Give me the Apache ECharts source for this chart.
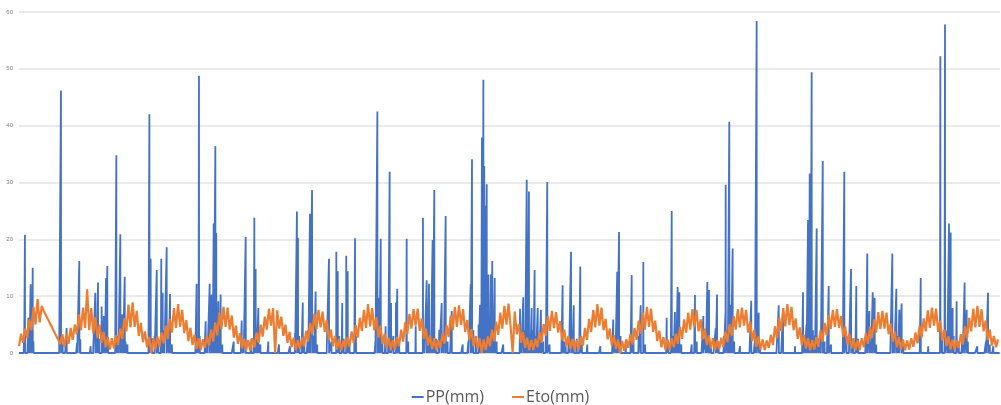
<!DOCTYPE html>
<html>
<head>
<meta charset="utf-8">
<script src="https://cdn.jsdelivr.net/npm/echarts@6/dist/echarts.min.js"></script>
<style>
  html, body { margin: 0; padding: 0; background: #fff; }
  #chart { width: 1001px; height: 405px; }
</style>
</head>
<body>
<div id="chart"></div>
<script>
// daily series, ~21 years; x axis = day index
const nDays = 7600
const yTicks = [0, 10, 20, 30, 40, 50, 60]
const seriesNames = ['PP(mm)', 'Eto(mm)']

// rain days: [day, mm] (all other days are 0)
const ppEvents = [
  [39, 2.5], [46, 20.8], [72, 6.2], [80, 2], [90, 12.1], [96, 3.5], [100, 1.8], [106, 15.0], [112, 2],
  [325, 46.2], [330, 2.5], [338, 1.5], [369, 4.4], [450, 1.8], [467, 16.2], [475, 2.4], [555, 1.2],
  [591, 10.6], [600, 3], [612, 12.4], [620, 2.5], [640, 8.2], [648, 4], [656, 6.5], [665, 2], [674, 13.2], [684, 15.3], [690, 1.5],
  [754, 34.8], [760, 3], [770, 2], [785, 20.9], [798, 6.8], [805, 3.5], [819, 13.4], [825, 2], [840, 1.5],
  [1010, 42.0], [1020, 16.6], [1030, 2.5], [1050, 3], [1067, 14.6], [1080, 2], [1102, 16.6], [1113, 10.6], [1125, 4], [1144, 18.6], [1160, 2.5], [1170, 10.4], [1185, 1.5],
  [1376, 12.2], [1390, 2], [1394, 48.8], [1400, 3], [1446, 5.6], [1460, 2.5], [1477, 12.2], [1492, 10.3], [1500, 4], [1508, 22.8], [1521, 36.4], [1528, 21.1], [1535, 3], [1544, 9.1], [1555, 2], [1562, 10.3], [1575, 1.5],
  [1663, 2], [1725, 5.7], [1740, 2], [1756, 20.4], [1800, 2.5], [1823, 23.8], [1833, 14.8], [1840, 3], [1854, 7.9], [1870, 1.5], [1931, 2], [2014, 1.5], [2099, 1.2],
  [2138, 3.5], [2153, 24.9], [2161, 20.3], [2170, 3], [2198, 8.9], [2210, 2], [2240, 4], [2254, 24.5], [2270, 28.7], [2285, 3], [2298, 10.8], [2310, 1.5],
  [2401, 16.6], [2420, 2], [2458, 17.8], [2469, 14.4], [2480, 3], [2504, 8.8], [2515, 2.5], [2535, 17.1], [2546, 14.4], [2560, 1.5],
  [2603, 20.2], [2610, 3], [2760, 2], [2776, 42.5], [2785, 3.5], [2791, 9.7], [2802, 20.1], [2815, 2.5], [2840, 4.7], [2860, 2], [2871, 31.9], [2882, 8.8], [2900, 3], [2920, 8.9], [2930, 11.3], [2945, 1.5], [3003, 20.1], [3015, 2], [3073, 4.7],
  [3129, 23.8], [3140, 3], [3158, 12.8], [3165, 4], [3176, 12.2], [3190, 3], [3204, 19.9], [3217, 28.7], [3230, 2.5], [3256, 4.1], [3274, 8.8], [3290, 3], [3305, 24.1], [3320, 2], [3352, 7.4], [3437, 1.5],
  [3480, 2], [3499, 12.1], [3509, 34.1], [3520, 4], [3540, 3], [3560, 5], [3571, 8.5], [3580, 6], [3586, 37.9], [3592, 10], [3597, 48.1], [3604, 32.9], [3610, 9], [3615, 25.9], [3623, 29.7], [3630, 7], [3635, 13.8], [3645, 5], [3654, 13.8], [3660, 6], [3666, 16.2], [3675, 4], [3685, 13.2], [3700, 2], [3751, 1.5],
  [3881, 7.8], [3890, 3], [3906, 9.8], [3920, 4], [3933, 30.5], [3940, 5], [3950, 28.4], [3960, 3], [3971, 7.9], [3985, 4], [3994, 14.6], [4005, 3], [4018, 7.9], [4030, 2.5], [4043, 7.6], [4060, 2], [4080, 3], [4092, 30.1], [4110, 1.5],
  [4211, 11.9], [4225, 2], [4235, 1.2], [4260, 3], [4276, 17.8], [4285, 2], [4297, 8.4], [4320, 2.5], [4348, 15.2], [4360, 1.5], [4402, 1.5], [4503, 1.2],
  [4603, 5.9], [4620, 2], [4634, 14.3], [4648, 21.3], [4660, 3], [4700, 2], [4746, 13.7], [4760, 2.5], [4800, 3], [4816, 8.4], [4836, 16.0], [4850, 1.5],
  [5017, 6.2], [5030, 2], [5056, 25.0], [5070, 3], [5081, 7.2], [5090, 2.5], [5102, 11.6], [5115, 10.7], [5130, 1.5], [5211, 1.5], [5236, 10.2], [5250, 2],
  [5301, 6.5], [5320, 3], [5332, 12.5], [5345, 11.1], [5360, 2], [5397, 4.4], [5407, 10.3], [5420, 2], [5460, 3], [5472, 7], [5474, 29.6], [5490, 4], [5502, 40.7], [5510, 3], [5515, 8.5], [5528, 18.4], [5540, 2], [5585, 1.2],
  [5672, 9.2], [5700, 2], [5714, 58.4], [5730, 7.1], [5740, 1.5], [5885, 8.4], [5918, 7.5], [6011, 1.2],
  [6073, 10.7], [6085, 3], [6100, 5], [6112, 23.4], [6118, 6], [6125, 31.6], [6132, 8], [6140, 49.4], [6150, 4], [6165, 3], [6179, 21.9], [6195, 2.5], [6210, 3], [6226, 33.8], [6240, 2], [6260, 3], [6272, 11.8], [6290, 1.5],
  [6393, 31.9], [6410, 3], [6445, 14.8], [6460, 2], [6486, 11.8], [6500, 2.5], [6560, 3], [6571, 17.5], [6587, 7.4], [6600, 2], [6613, 10.7], [6628, 9.7], [6640, 1.5],
  [6765, 17.5], [6780, 2], [6796, 11.3], [6810, 3], [6819, 7.6], [6837, 8.7], [6850, 1.5], [6985, 13.2], [7043, 1.2],
  [7137, 52.2], [7150, 3], [7173, 57.8], [7190, 4], [7204, 22.8], [7217, 21.2], [7232, 7.9], [7240, 3], [7263, 9.1], [7280, 2], [7310, 3], [7325, 12.4], [7341, 7.6], [7350, 2], [7423, 1.2], [7490, 2], [7506, 10.6], [7520, 1.5], [7547, 1.2]
]

// Eto read every 16 days (null = missing stretch, drawn as a straight join)
const etoStep = 16
const etoValues = [
  1.2, 3.4, 1.8, 4.3, 2.6, 5.9, 4.0, 8.1, 5.0, 9.5, 5.4, 8.3, 7.4,
  null, null, null, null, null, null, null,
  1.6, 3.3, 1.0, 3.5, 1.6, 4.4, 2.3, 5.0, 3.3, 6.8, 4.0, 8.0, 4.4, 11.2, 4.0, 7.9,
  3.4, 6.3, 2.6, 5.0, 1.8, 3.7, 1.0, 2.8, 0.6, 2.6, 0.8,
  3.1, 1.4, 4.3, 2.5, 6.1, 3.8, 8.5, 4.5, 8.9, 4.6,
  7.4, 3.0, 5.3, 1.9, 3.8, 1.0, 2.8, 0.0, 2.6, 0.6,
  2.9, 1.1, 3.6, 1.7, 4.8, 2.5, 6.0, 3.6, 7.9, 4.4, 8.6, 4.6,
  7.6, 3.5, 5.8, 2.1, 4.4, 1.4, 3.2, 0.7, 2.6, 0.5, 2.4,
  0.9, 3.0, 1.3, 4.1, 2.0, 5.4, 3.1, 7.1, 4.2, 8.1, 4.6, 8.0,
  4.1, 6.6, 2.7, 4.8, 1.6, 3.5, 0.8, 2.5, 0.5, 2.3, 0.4,
  2.6, 1.0, 3.6, 1.8, 5.0, 2.9, 6.4, 4.1, 7.8, 4.8, 7.9, 0.0, 7.5,
  4.3, 6.4, 3.0, 5.0, 1.8, 3.7, 1.0, 2.7, 0.5, 2.3, 0.7,
  2.7, 1.2, 3.9, 2.0, 5.3, 3.3, 6.9, 4.2, 7.6, 4.5, 7.3,
  3.7, 5.8, 2.3, 4.1, 1.2, 3.0, 0.6, 2.5, 0.5, 2.2, 0.7,
  2.8, 1.1, 3.8, 1.8, 4.9, 2.7, 6.2, 3.9, 7.6, 4.4, 8.6, 4.7, 7.9,
  4.0, 6.3, 2.7, 4.8, 1.6, 3.4, 0.9, 2.7, 0.5, 2.3, 0.6,
  2.8, 1.2, 4.1, 2.0, 5.4, 3.3, 6.9, 4.3, 7.7, 4.8, 7.8,
  3.9, 6.1, 2.5, 4.3, 1.3, 3.1, 0.7, 2.6, 0.5, 2.3,
  0.9, 3.4, 1.6, 4.9, 2.8, 6.6, 4.0, 8.1, 4.6, 8.4, 4.9,
  7.7, 3.7, 5.8, 2.3, 4.2, 1.2, 3.0, 0.7, 2.6, 0.0, 2.4, 0.5,
  2.9, 1.2, 4.1, 2.1, 5.5, 3.2, 7.1, 4.3, 8.3, 5.0, 8.7, 4.7, 0.0, 7.3,
  3.3, 5.1, 1.8, 3.7, 0.9, 2.7, 0.5, 2.3, 0.5,
  2.5, 1.0, 3.7, 1.8, 5.1, 3.0, 6.5, 3.9, 7.4, 4.4, 7.2,
  3.6, 5.6, 2.2, 4.1, 1.2, 3.0, 0.7, 2.5, 0.5, 2.2, 0.6,
  3.0, 1.3, 4.4, 2.3, 6.0, 3.7, 7.6, 4.5, 8.6, 4.8, 8.0,
  4.0, 6.0, 2.4, 4.3, 1.3, 3.1, 0.7, 2.4, 0.0, 2.1, 0.4,
  2.4, 0.9, 3.3, 1.5, 4.4, 2.3, 5.7, 3.4, 7.1, 4.1, 8.1, 4.6, 7.8,
  3.7, 5.7, 2.1, 3.9, 1.0, 2.8, 0.5, 2.4, 0.5,
  2.6, 1.0, 3.4, 1.6, 4.6, 2.5, 5.9, 3.6, 7.1, 4.1, 7.7, 4.5, 7.6,
  3.8, 5.9, 2.4, 4.3, 1.4, 3.1, 0.8, 2.6, 0.5, 2.3, 0.6,
  2.7, 1.1, 3.8, 1.9, 5.1, 3.0, 6.5, 4.1, 7.7, 4.5, 8.0, 4.8, 7.6,
  3.6, 5.5, 2.1, 4.0, 1.1, 2.9, 0.6, 2.4, 0.5, 2.2,
  0.9, 3.2, 1.4, 4.7, 2.6, 6.2, 3.9, 7.9, 4.7, 8.6, 4.9, 8.1,
  4.0, 6.1, 2.5, 4.5, 1.4, 3.2, 0.8, 2.6, 0.5, 2.3, 0.6,
  2.8, 1.1, 4.0, 2.0, 5.3, 3.1, 6.7, 4.2, 7.6, 4.6, 7.7, 4.4,
  6.5, 2.8, 4.7, 1.5, 3.4, 0.8, 2.6, 0.5, 2.3, 0.5,
  2.6, 1.0, 3.5, 1.6, 4.6, 2.6, 5.9, 3.6, 7.2, 4.2, 7.4, 4.3, 7.1,
  3.3, 5.2, 2.0, 3.8, 1.0, 2.8, 0.6, 2.4, 0.5, 2.2, 0.6,
  2.6, 1.1, 3.6, 1.7, 4.8, 2.7, 6.1, 3.8, 7.5, 4.4, 8.0, 4.8, 7.8,
  3.7, 5.7, 2.2, 4.1, 1.2, 2.9, 0.6, 2.4, 0.5, 2.3,
  0.9, 3.3, 1.5, 4.7, 2.6, 6.2, 3.8, 7.8, 4.5, 8.3, 4.6, 7.7,
  3.8, 5.7, 2.3, 4.1, 1.3, 3.0, 1.0, 2.4
]

const ppDaily = new Array(nDays).fill(0)
ppEvents.forEach(([d, mm]) => { ppDaily[d] = mm })
const ppData = ppDaily.map((v, i) => [i, v])
const etoData = etoValues.map((v, i) => [i * etoStep, v])

const chart = echarts.init(document.getElementById('chart'))

const option = {
  animation: false,
  color: ['#4472C4', '#ED7D31'],
  grid: {
    left: 19,
    right: 1,
    top: 12,
    bottom: 52,
  },
  legend: {
    data: seriesNames,
    top: 384,
    left: 'center',
    icon: 'rect',
    itemWidth: 12,
    itemHeight: 2,
    itemGap: 28,
    textStyle: {
      fontFamily: 'Open Sans',
      fontSize: 16,
      color: '#595959',
      padding: [0, 0, 0, -3],
    },
  },
  xAxis: {
    type: 'value',
    min: 0,
    max: nDays - 1,
    axisLine: { show: true, lineStyle: { color: '#d9d9d9' } },
    axisTick: { show: false },
    axisLabel: { show: false },
    splitLine: { show: false },
  },
  yAxis: {
    type: 'value',
    min: yTicks[0],
    max: yTicks[yTicks.length - 1],
    interval: 10,
    axisLine: { show: false },
    axisTick: { show: false },
    axisLabel: {
      fontSize: 6,
      color: '#7f7f7f',
      margin: 6,
    },
    splitLine: { lineStyle: { color: '#e3e3e3', width: 1.5 } },
  },
  series: [
    {
      name: seriesNames[0],
      type: 'line',
      data: ppData,
      showSymbol: false,
      lineStyle: { width: 1.8 },
      z: 2,
    },
    {
      name: seriesNames[1],
      type: 'line',
      data: etoData,
      connectNulls: true,
      showSymbol: false,
      lineStyle: { width: 2.2 },
      z: 3,
    },
  ],
}

chart.setOption(option)
</script>
</body>
</html>
